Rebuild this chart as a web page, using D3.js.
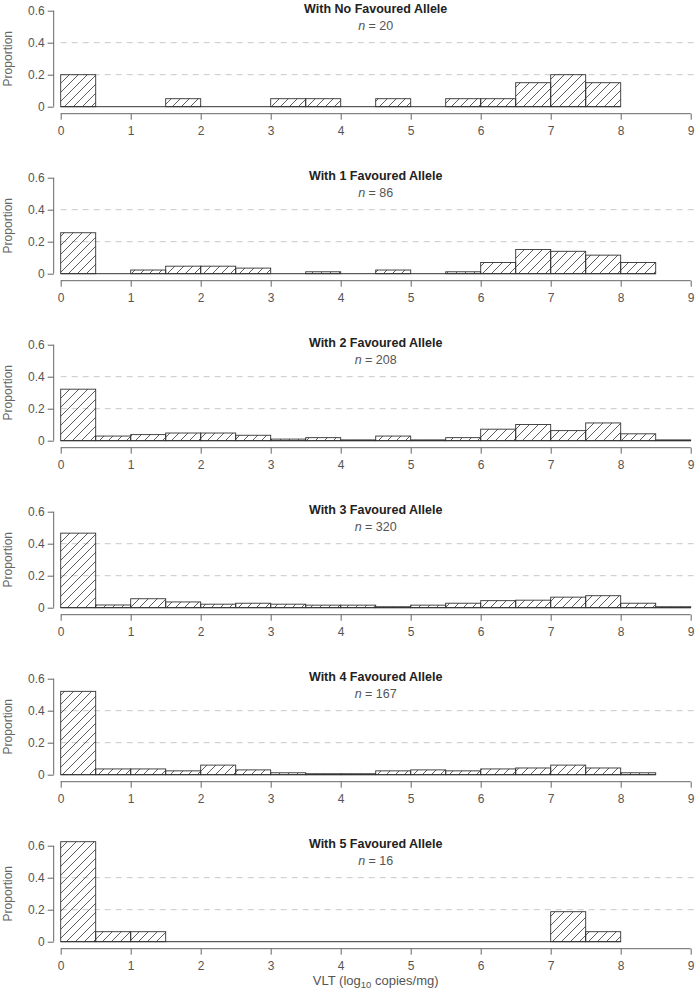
<!DOCTYPE html>
<html><head><meta charset="utf-8">
<script src="https://cdn.jsdelivr.net/npm/d3@7"></script>
<style>
body{margin:0;background:#fff}
text{font-family:"Liberation Sans",Arial,Helvetica,sans-serif}
</style>
</head><body>
<svg id="chart" width="697" height="993"></svg>
<script>
// ---- data ----
const binStarts = [0,0.5,1,1.5,2,2.5,3,3.5,4,4.5,5,5.5,6,6.5,7,7.5,8,8.5];
const binWidth = 0.5;
const titles = ["With No Favoured Allele","With 1 Favoured Allele","With 2 Favoured Allele",
                "With 3 Favoured Allele","With 4 Favoured Allele","With 5 Favoured Allele"];
const nValues = [20, 86, 208, 320, 167, 16];
const prop0 = [0.200,0,0,0.050,0,0,0.050,0.050,0,0.050,0,0.050,0.050,0.150,0.200,0.150];
const prop1 = [0.256,0,0.023,0.047,0.047,0.035,0,0.012,0,0.023,0,0.012,0.070,0.151,0.140,0.116,0.070];
const prop2 = [0.322,0.029,0.038,0.048,0.048,0.034,0.010,0.019,0.005,0.029,0.005,0.019,0.072,0.101,0.063,0.111,0.043,0.005];
const prop3 = [0.466,0.017,0.056,0.036,0.022,0.028,0.022,0.016,0.016,0.006,0.016,0.028,0.044,0.047,0.066,0.075,0.028,0.006];
const prop4 = [0.521,0.036,0.036,0.024,0.060,0.030,0.012,0.006,0.006,0.024,0.030,0.024,0.036,0.042,0.060,0.042,0.012];
const prop5 = [0.625,0.0625,0.0625,0,0,0,0,0,0,0,0,0,0,0,0.1875,0.0625];
const panels = [prop0, prop1, prop2, prop3, prop4, prop5];
const xTicks = [0,1,2,3,4,5,6,7,8,9];
const yTicks = [0,0.2,0.4,0.6];
const yGrid = [0.2,0.4];

// ---- layout ----
const svg = d3.select("#chart");
const x = d3.scaleLinear().domain([0,9]).range([60.7,690.7]);
const panelStep = 167, firstBase = 106.7, yPix = 96;

const defs = svg.append("defs");
defs.append("pattern").attr("id","hatch").attr("patternUnits","userSpaceOnUse")
  .attr("width",9).attr("height",9)
  .append("path").attr("d","M-1,1 L1,-1 M0,9 L9,0 M8,10 L10,8")
  .attr("stroke","#333").attr("stroke-width",0.8);

panels.forEach((vals, i) => {
  const base = firstBase + panelStep*i;
  const y = d3.scaleLinear().domain([0,0.6]).range([base, base - yPix]);
  const g = svg.append("g");

  // grid
  g.selectAll("line.grid").data(yGrid).join("line")
    .attr("x1", x(0)).attr("x2", 697)
    .attr("y1", d => y(d)).attr("y2", d => y(d))
    .attr("stroke","#c8c8c8").attr("stroke-width",1).attr("stroke-dasharray","6,5");

  // bars
  const data = vals.map((v,k) => ({x0: binStarts[k], v}));
  g.selectAll("rect.bar").data(data.filter(d => d.v > 0)).join("rect")
    .attr("x", d => x(d.x0)).attr("width", d => x(d.x0+binWidth)-x(d.x0))
    .attr("y", d => y(d.v)).attr("height", d => y(0)-y(d.v))
    .attr("fill","url(#hatch)").attr("stroke","#333").attr("stroke-width",0.9);
  // baseline under all bins (zero-height bins)
  g.append("line")
    .attr("x1", x(binStarts[0])).attr("x2", x(binStarts[vals.length-1] + binWidth))
    .attr("y1", y(0)).attr("y2", y(0)).attr("stroke","#333").attr("stroke-width",1);

  // y axis
  const ya = g.append("g").attr("transform",`translate(${x(0)-7},0)`)
    .call(d3.axisLeft(y).tickValues(yTicks).tickFormat(d => d===0?"0":d3.format(".1f")(d)).tickSize(6).tickPadding(3));
  ya.select(".domain").attr("d", `M0,${y(0)}V${y(0.6)}`).attr("stroke","#666");
  ya.selectAll(".tick line").attr("stroke","#666");
  ya.selectAll(".tick text").attr("fill","#555").style("font-size","12px");

  // x axis
  const xa = g.append("g").attr("transform",`translate(0,${base+7})`)
    .call(d3.axisBottom(x).tickValues(xTicks).tickFormat(d3.format("d")).tickSize(6).tickPadding(7));
  xa.select(".domain").attr("d", `M${x(0)},0H${x(9)}`).attr("stroke","#666");
  xa.selectAll(".tick line").attr("stroke","#666");
  xa.selectAll(".tick text").attr("fill","#555").style("font-size","12px");

  // y label
  g.append("text").attr("transform",`translate(12,${y(0.3)}) rotate(-90)`)
    .attr("text-anchor","middle").attr("fill","#666").style("font-size","12px").text("Proportion");

  // title
  g.append("text").attr("x", 375.7).attr("y", base - 94)
    .attr("text-anchor","middle").attr("fill","#222").style("font-size","12.5px").style("font-weight","bold")
    .text(titles[i]);
  const nt = g.append("text").attr("x", 375.7).attr("y", base - 77)
    .attr("text-anchor","middle").attr("fill","#555").style("font-size","12.5px");
  nt.append("tspan").style("font-style","italic").text("n");
  nt.append("tspan").text(" = " + nValues[i]);
});

// x label
const xl = svg.append("text").attr("x", 375.7).attr("y", 985).attr("text-anchor","middle")
  .attr("fill","#555").style("font-size","13px");
xl.append("tspan").text("VLT (log");
xl.append("tspan").attr("dy",3).style("font-size","9.5px").text("10");
xl.append("tspan").attr("dy",-3).text(" copies/mg)");
</script>
</body></html>
